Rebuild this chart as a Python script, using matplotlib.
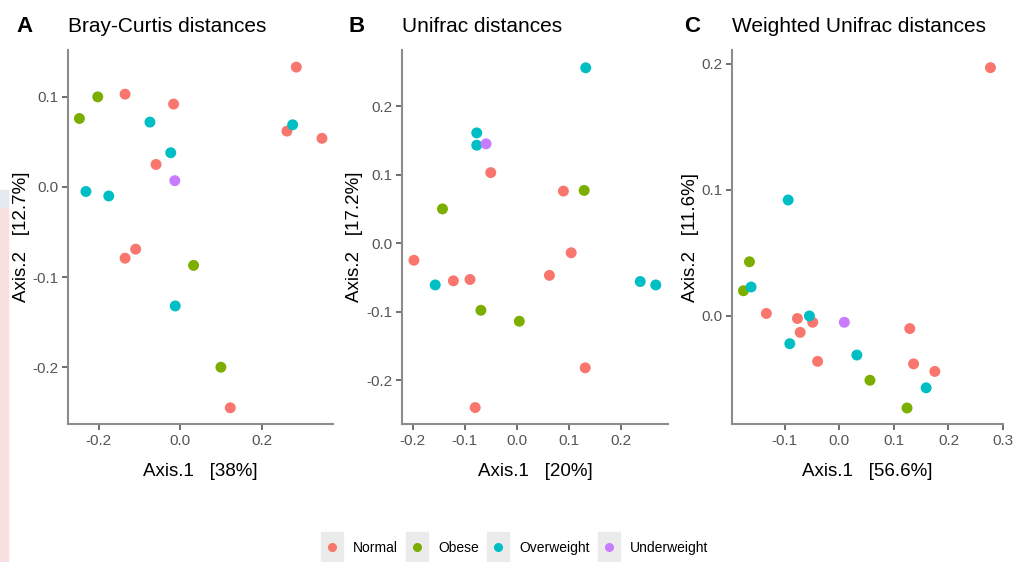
import matplotlib.pyplot as plt
from matplotlib.lines import Line2D
from matplotlib.patches import Rectangle

plt.rcParams['font.family'] = ['Liberation Sans', 'DejaVu Sans']

groups = ['Normal', 'Obese', 'Overweight', 'Underweight']
colores = ['#F8766D', '#7CAE00', '#00BFC4', '#C77CFF']

# A - Bray-Curtis
bc_x = {
    'Normal': [-0.135, -0.016, -0.059, 0.285, 0.262, 0.348, -0.135, -0.109, 0.123],
    'Obese': [-0.247, -0.202, 0.033, 0.100],
    'Overweight': [-0.074, -0.023, -0.231, -0.175, 0.276, -0.012],
    'Underweight': [-0.013],
}
bc_y = {
    'Normal': [0.103, 0.092, 0.025, 0.133, 0.062, 0.054, -0.079, -0.069, -0.245],
    'Obese': [0.076, 0.100, -0.087, -0.200],
    'Overweight': [0.072, 0.038, -0.005, -0.010, 0.069, -0.132],
    'Underweight': [0.007],
}

# B - Unifrac
uf_x = {
    'Normal': [-0.050, 0.090, -0.198, 0.105, -0.122, -0.090, 0.063, 0.132, -0.080],
    'Obese': [0.130, -0.143, -0.069, 0.005],
    'Overweight': [0.133, -0.077, -0.077, -0.157, 0.238, 0.268],
    'Underweight': [-0.059],
}
uf_y = {
    'Normal': [0.103, 0.076, -0.025, -0.014, -0.055, -0.053, -0.047, -0.182, -0.240],
    'Obese': [0.077, 0.050, -0.098, -0.114],
    'Overweight': [0.256, 0.161, 0.143, -0.061, -0.056, -0.061],
    'Underweight': [0.145],
}

# C - Weighted Unifrac
wu_x = {
    'Normal': [0.277, -0.134, -0.077, -0.049, -0.072, -0.040, 0.129, 0.136, 0.175],
    'Obese': [-0.165, -0.176, 0.056, 0.124],
    'Overweight': [-0.094, -0.162, -0.055, -0.091, 0.032, 0.159],
    'Underweight': [0.009],
}
wu_y = {
    'Normal': [0.197, 0.002, -0.002, -0.005, -0.013, -0.036, -0.010, -0.038, -0.044],
    'Obese': [0.043, 0.020, -0.051, -0.073],
    'Overweight': [0.092, 0.023, 0.000, -0.022, -0.031, -0.057],
    'Underweight': [-0.005],
}

paneles = [
    ('A', 'Bray-Curtis distances', bc_x, bc_y, 'Axis.1   [38%]', 'Axis.2   [12.7%]',
     [-0.2, 0.0, 0.2], [-0.2, -0.1, 0.0, 0.1], (-0.275, 0.375), (-0.263, 0.152)),
    ('B', 'Unifrac distances', uf_x, uf_y, 'Axis.1   [20%]', 'Axis.2   [17.2%]',
     [-0.2, -0.1, 0.0, 0.1, 0.2], [-0.2, -0.1, 0.0, 0.1, 0.2], (-0.221, 0.2915), (-0.264, 0.282)),
    ('C', 'Weighted Unifrac distances', wu_x, wu_y, 'Axis.1   [56.6%]', 'Axis.2   [11.6%]',
     [-0.1, 0.0, 0.1, 0.2, 0.3], [0.0, 0.1, 0.2], (-0.197, 0.300), (-0.0857, 0.211)),
]

fig = plt.figure(figsize=(10.16, 5.62), dpi=100)

# faint strip on the left edge of the original image
fig.patches.append(Rectangle((0, 0), 8 / 1016, 355 / 562, transform=fig.transFigure,
                             color='#f9dfe0', zorder=0))
fig.patches.append(Rectangle((0, 355 / 562), 8 / 1016, 17 / 562, transform=fig.transFigure,
                             color='#e6e8ef', zorder=0))

lefts = [68, 402, 732]
widths = [265, 266, 271]
letra_x = [-0.196, -0.203, -0.177]
ylab_x = [-0.145, -0.148, -0.12]

for i, (letra, titulo, dx, dy, xl, yl, xt, yt, xlim, ylim) in enumerate(paneles):
    ax = fig.add_axes([lefts[i] / 1016, 1 - 424 / 562, widths[i] / 1016, 374 / 562])
    for g, c in zip(groups, colores):
        ax.scatter(dx[g], dy[g], s=62, color=c, edgecolors='none', zorder=3)
    ax.set_xlim(*xlim)
    ax.set_ylim(*ylim)
    ax.set_xticks(xt)
    ax.set_yticks(yt)
    ax.set_xticklabels([f'{v:.1f}' for v in xt])
    ax.set_yticklabels([f'{v:.1f}' for v in yt])
    for s in ['top', 'right']:
        ax.spines[s].set_visible(False)
    for s in ['left', 'bottom']:
        ax.spines[s].set_color('#8c8c8c')
        ax.spines[s].set_linewidth(1.5)
    ax.tick_params(colors='#555555', labelsize=11, length=4, width=1.2, pad=3)
    ax.set_xlabel(xl, fontsize=13.5)
    ax.set_ylabel(yl, fontsize=13.5)
    ax.xaxis.set_label_coords(0.5, -0.105)
    ax.yaxis.set_label_coords(ylab_x[i], 0.5)
    ax.text(letra_x[i], 1.048, letra, transform=ax.transAxes, fontsize=16, fontweight='bold',
            ha='left', va='baseline')
    ax.text(0.0, 1.048, titulo, transform=ax.transAxes, fontsize=15, ha='left', va='baseline')

clave = [(-0.77, -1), (0.77, -1), (0.77, 1), (-0.77, 1), (-0.77, -1)]
handles = []
for c in colores:
    fondo = Line2D([], [], marker=clave, markersize=21, color='#ebebeb', linestyle='none')
    punto = Line2D([], [], marker='o', markersize=5.5, color=c, linestyle='none')
    handles.append((fondo, punto))

fig.legend(handles, groups, loc='center', bbox_to_anchor=(0.508, 0.025), ncol=4,
           frameon=False, fontsize=10, handlelength=1.2, handletextpad=0.9,
           columnspacing=0.8)

fig.savefig('out.png', dpi=100)
